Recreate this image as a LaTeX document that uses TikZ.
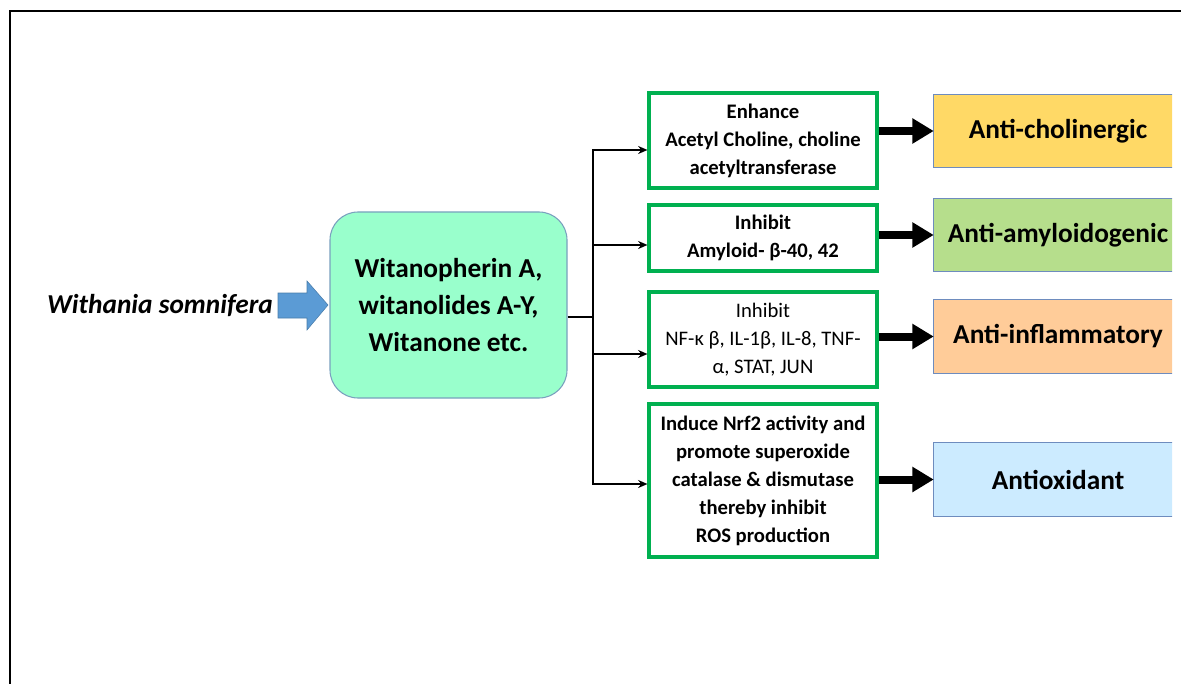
\documentclass[tikz,border=0pt]{standalone}
\usepackage{fontspec}
\setmainfont{Carlito}
\usetikzlibrary{arrows.meta}

\definecolor{boxgreen}{RGB}{0,176,80}
\definecolor{mint}{RGB}{153,255,204}
\definecolor{mintedge}{RGB}{122,160,190}
\definecolor{arrowblue}{RGB}{91,155,213}
\definecolor{edgeblue}{RGB}{110,140,190}
\definecolor{cholgold}{RGB}{255,217,102}
\definecolor{amylgreen}{RGB}{182,222,140}
\definecolor{inflorange}{RGB}{255,204,153}
\definecolor{oxiblue}{RGB}{204,235,255}

\tikzset{
  bigtext/.style={font=\bfseries\fontsize{20.5}{27.7}\selectfont},
  effect/.style={draw=boxgreen, line width=2.3pt, fill=white, minimum width=171pt,
    align=center, inner sep=2pt, font=\bfseries\fontsize{15.5}{21}\selectfont},
  outcome/.style={minimum width=186pt, minimum height=54.5pt, inner sep=0pt, bigtext},
  link/.style={line width=1.6pt},
  branch/.style={link, -{Stealth[length=7pt,width=6pt]}},
  fatarrow/.style={line width=6pt, -{Triangle[length=16pt,width=18pt]}},
}

\begin{document}
\begin{tikzpicture}[x=0.75pt,y=-0.75pt]
  \useasboundingbox (0,0) rectangle (1181,684);
  \draw[line width=1.5pt] (10,684) -- (10,11) -- (1181,11);

  % source plant and its compounds
  \node[font=\bfseries\itshape\fontsize{20.5}{27.7}\selectfont] (plant) at (160,305) {Withania somnifera};
  \fill[arrowblue, draw=arrowblue!80!black, line width=0.4pt]
    (278,293) -- (307,293) -- (307,281) -- (328,305) -- (307,330) -- (307,318) -- (278,318) -- cycle;
  \node[draw=mintedge, fill=mint, line width=0.8pt, rounded corners=21pt, minimum width=177.75pt,
    minimum height=139.5pt, align=center, bigtext] (compounds) at (448.5,305)
    {Witanopherin A,\\witanolides A-Y,\\Witanone etc.};

  % mechanisms
  \node[effect, minimum height=71.25pt] (enhance) at (763,140.5)
    {Enhance\\Acetyl Choline, choline\\acetyltransferase};
  \node[effect, minimum height=49.5pt] (amyloid) at (763,238)
    {Inhibit\\Amyloid- β-40, 42};
  \node[effect, minimum height=71.25pt, font=\fontsize{15.5}{21}\selectfont] (cytokine) at (763,339.5)
    {Inhibit\\NF-κ β, IL-1β, IL-8, TNF-\\α, STAT, JUN};
  \node[effect, minimum height=114.75pt] (nrf) at (763,480.5)
    {Induce Nrf2 activity and\\promote superoxide\\catalase \& dismutase\\thereby inhibit\\ROS production};

  % effects, cut off at the right edge
  \begin{scope}
    \clip (0,0) rectangle (1172,684);
    \node[outcome, fill=cholgold] (chol) at (1058,131) {Anti-cholinergic};
    \node[outcome, fill=amylgreen] (amyl) at (1058,235) {Anti-amyloidogenic};
    \node[outcome, fill=inflorange] (infl) at (1058,336.5) {Anti-inflammatory};
    \node[outcome, fill=oxiblue] (oxi) at (1058,479.5) {Antioxidant};
    \foreach \n in {chol,amyl,infl,oxi}
      \draw[edgeblue, line width=0.8pt] (\n.north east) -- (\n.north west) -- (\n.south west) -- (\n.south east);
  \end{scope}

  % connectors
  \coordinate (hub) at (593,317);
  \draw[link] (compounds.east |- hub) -- (hub);
  \draw[link, line cap=rect] (hub |- 0,150) -- (hub |- 0,484);
  \foreach \n/\y in {enhance/150,amyloid/245,cytokine/354,nrf/484}
    \draw[branch] (hub |- 0,\y) -- (\n.west |- 0,\y);
  \foreach \a/\b in {enhance/chol,amyloid/amyl,cytokine/infl,nrf/oxi}
    \draw[fatarrow] (\a.east |- \b.west) -- (\b.west);
\end{tikzpicture}
\end{document}
